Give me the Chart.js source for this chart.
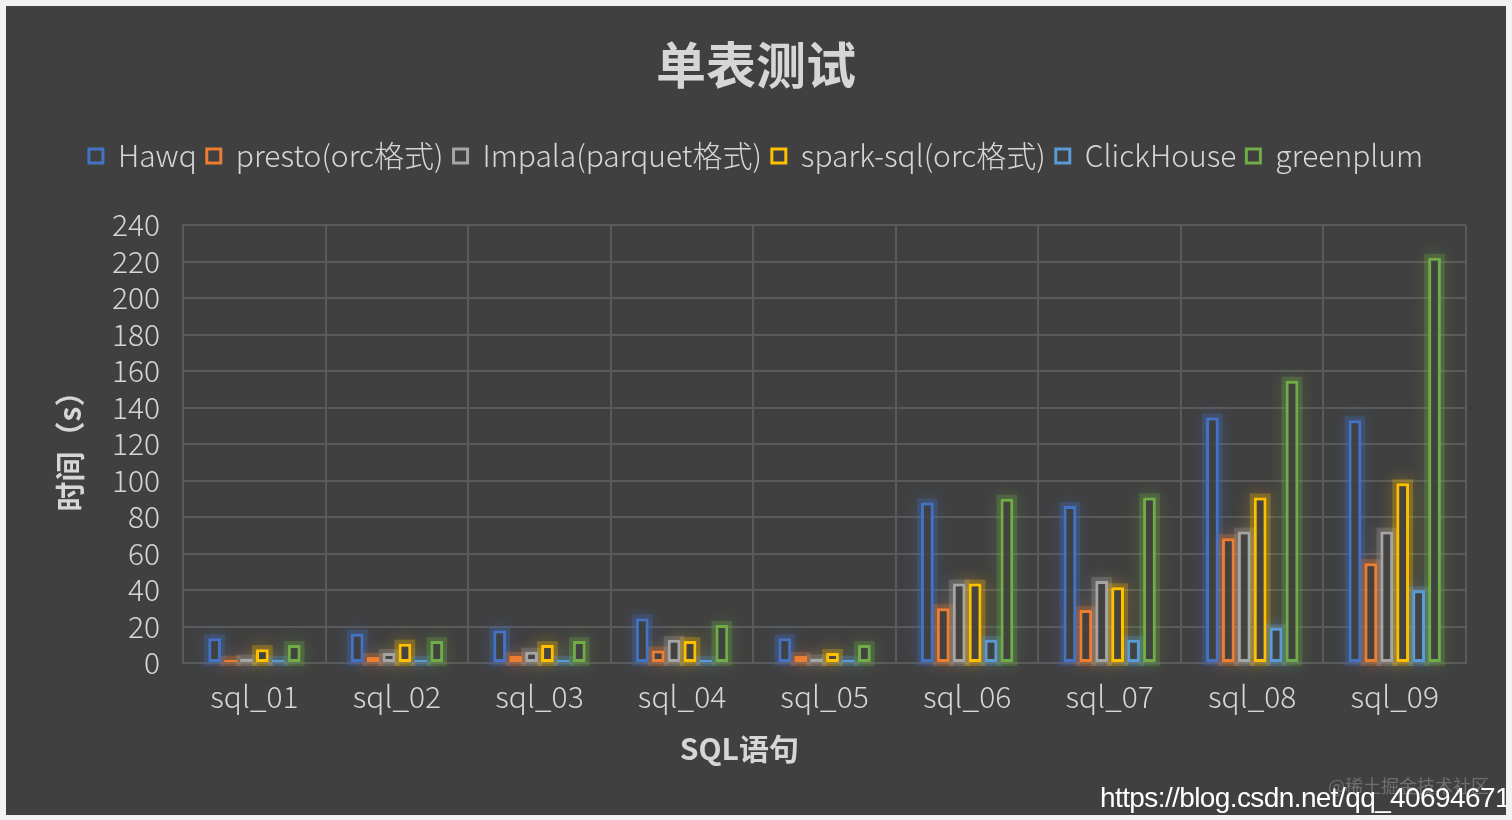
<!DOCTYPE html>
<html>
<head>
<meta charset="utf-8">
<script src="https://cdn.jsdelivr.net/npm/chart.js@4/dist/chart.umd.min.js"></script>
<style>
  html, body { margin: 0; padding: 0; background: #f2f2f2; width: 1512px; height: 820px; overflow: hidden; }
  #box { position: absolute; left: 6px; top: 6px; width: 1500px; height: 809px; background: #404040; overflow: hidden; }
  #c { position: absolute; left: 0; top: 0; }
  .wm1 { position: absolute; left: 1322px; top: 766px; font: 18px "Noto Sans CJK SC"; color: rgba(150,150,150,0.55); white-space: nowrap; }
  .wm2 { position: absolute; left: 1094px; top: 776px; font: 28px/32px "Liberation Sans"; color: #ffffff; white-space: nowrap; letter-spacing: -0.6px; }
</style>
</head>
<body>
<div id="box">
  <canvas id="c" width="1500" height="809"></canvas>
  <div class="wm1">@稀土掘金技术社区</div>
  <div class="wm2">https://blog.csdn.net/qq_40694671</div>
</div>
<script>
const categories = ["sql_01","sql_02","sql_03","sql_04","sql_05","sql_06","sql_07","sql_08","sql_09"];
const seriesNames = ["Hawq","presto(orc格式)","Impala(parquet格式)","spark-sql(orc格式)","ClickHouse","greenplum"];
const hawq       = [13.5, 16, 17.8, 24.4, 13.5, 88, 86, 134.5, 133];
const presto     = [1.8, 3.3, 3.8, 6.9, 3.8, 30, 29, 68.4, 54.7];
const impala     = [2.5, 5.5, 6.2, 12.7, 2.5, 43.5, 45, 72, 72];
const sparkSql   = [7.6, 10.6, 9.8, 12, 5.5, 43.5, 41.5, 90.7, 98.5];
const clickHouse = [1.8, 1.8, 1.8, 1.8, 1.8, 12.7, 12.7, 19.3, 39.8];
const greenplum  = [9.8, 12, 12, 20.8, 9.8, 90, 90.7, 154.7, 222];
const colors = ["#4472c4","#ed7d31","#a5a5a5","#ffc000","#5b9bd5","#70ad47"];
const allSeries = [hawq, presto, impala, sparkSql, clickHouse, greenplum];

// soft glow behind each bar, drawn from the bar elements the library laid out
const glow = {
  id: 'glow',
  beforeDatasetsDraw(chart) {
    const ctx = chart.ctx;
    chart.data.datasets.forEach((ds, i) => {
      const meta = chart.getDatasetMeta(i);
      meta.data.forEach(el => {
        const p = el.getProps(['x', 'y', 'base', 'width'], true);
        ctx.save();
        ctx.strokeStyle = colors[i] + '44';
        ctx.lineWidth = 8;
        ctx.shadowColor = colors[i];
        ctx.shadowBlur = 16;
        ctx.strokeRect(p.x - p.width / 2, Math.min(p.y, p.base), p.width, Math.abs(p.base - p.y));
        ctx.restore();
      });
    });
  }
};

// extra gap below the legend
const legendGap = {
  id: 'legendGap',
  beforeInit(chart) {
    const orig = chart.legend.fit;
    chart.legend.fit = function () { orig.bind(chart.legend)(); this.height += 44; };
  }
};

const txt = '#d6d6d6';
const fam = '"Noto Sans CJK SC", "Noto Sans", sans-serif';

new Chart(document.getElementById('c'), {
  type: 'bar',
  data: {
    labels: categories,
    datasets: allSeries.map((d, i) => ({
      label: seriesNames[i],
      data: d,
      backgroundColor: 'rgba(64,64,64,0.85)',
      borderColor: colors[i],
      borderWidth: 3,
      borderSkipped: false,
      barPercentage: 0.8,
      categoryPercentage: 0.67
    }))
  },
  plugins: [legendGap, glow],
  options: {
    responsive: false,
    animation: false,
    devicePixelRatio: 1,
    layout: { padding: { left: 40, right: 40, top: 0, bottom: 48 } },
    plugins: {
      title: {
        display: true, text: '单表测试', color: txt,
        font: { family: fam, size: 50, weight: 'bold' },
        padding: { top: 29, bottom: 36 }
      },
      legend: {
        position: 'top',
        labels: {
          color: txt,
          font: { family: fam, size: 30, weight: '300' },
          boxWidth: 14, boxHeight: 14,
          padding: 10,
          generateLabels(chart) {
            return chart.data.datasets.map((ds, i) => ({
              text: ds.label, fillStyle: 'rgba(0,0,0,0)', strokeStyle: colors[i],
              lineWidth: 3, fontColor: txt, datasetIndex: i, hidden: false
            }));
          }
        }
      },
      tooltip: { enabled: false }
    },
    scales: {
      x: {
        grid: { color: '#5a5a5a', lineWidth: 2, offset: true, drawTicks: false },
        border: { color: '#5a5a5a', width: 2 },
        ticks: { color: txt, font: { family: fam, size: 30, weight: '300' }, padding: 16, autoSkip: false },
        title: { display: true, text: 'SQL语句\u3000\u3000\u3000\u3000\u3000   ', color: txt, font: { family: fam, size: 30, weight: 'bold' }, padding: { top: 0, bottom: 0 } }
      },
      y: {
        min: 0, max: 240,
        grid: { color: '#5a5a5a', lineWidth: 2, drawTicks: false },
        border: { color: '#5a5a5a', width: 2 },
        ticks: { stepSize: 20, autoSkip: false, color: txt, font: { family: fam, size: 30, weight: '300' }, padding: 23 },
        title: { display: true, text: '时间（s）', color: txt, font: { family: fam, size: 30, weight: 'bold' }, padding: { top: 6, bottom: 1 } }
      }
    }
  }
});
</script>
</body>
</html>
